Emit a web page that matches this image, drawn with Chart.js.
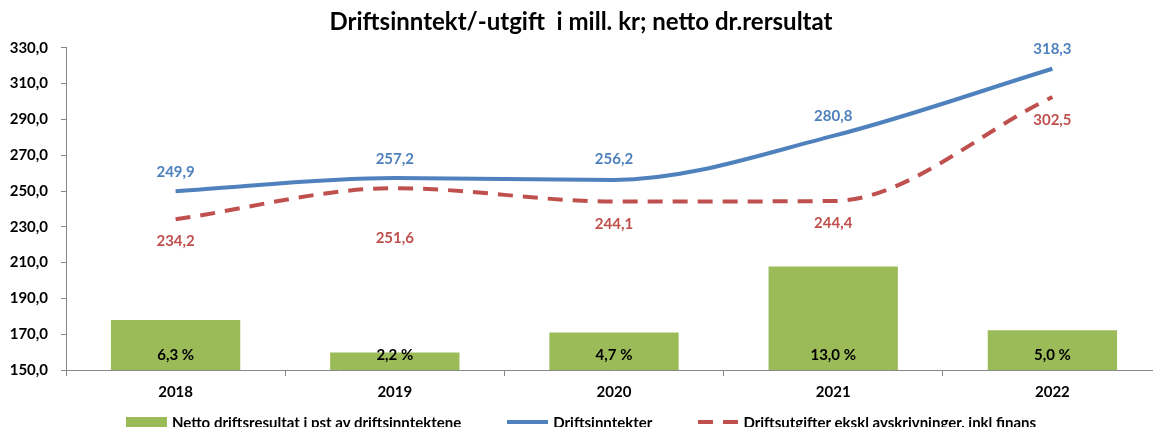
<!DOCTYPE html>
<html>
<head>
<meta charset="utf-8">
<script src="https://cdn.jsdelivr.net/npm/chart.js@4.4.1/dist/chart.umd.min.js"></script>
<style>
    html, body { margin: 0; padding: 0; background: #fff; overflow: hidden; }
    #frame { width: 1153px; height: 427px; overflow: hidden; position: relative; }
    #inner { width: 1162px; height: 427px; position: relative; }
    #legend {
        position: absolute; left: 0; top: 413px; width: 1162px;
        display: flex; justify-content: center; align-items: center;
        font-family: Lato, sans-serif; font-weight: bold; font-size: 15px; color: #000;
    }
    .item { display: flex; align-items: center; margin: 0 23px; }
    .sym { width: 41px; margin-right: 5px; }
    .box { height: 11px; background: #9bbb59; }
    .solid { height: 0; border-top: 4px solid #4f81bd; }
    .dash { height: 4px; background: repeating-linear-gradient(90deg, #c0504d 0 15px, transparent 15px 25px); width: 40px; }
</style>
</head>
<body>
<div id="frame">
    <div id="inner">
        <canvas id="chart"></canvas>
        <div id="legend">
            <div class="item"><div class="sym box"></div><span>Netto driftsresultat i pst av driftsinntektene</span></div>
            <div class="item"><div class="sym solid"></div><span>Driftsinntekter</span></div>
            <div class="item"><div class="sym dash"></div><span>Driftsutgifter ekskl avskrivninger, inkl finans</span></div>
        </div>
    </div>
</div>
<script>
// Chart data
const years = ['2018', '2019', '2020', '2021', '2022'];
const nettoPct = [6.3, 2.2, 4.7, 13.0, 5.0];
const inntekter = [249.9, 257.2, 256.2, 280.8, 318.3];
const utgifter = [234.2, 251.6, 244.1, 244.4, 302.5];

const blue = '#4f81bd';
const red = '#c0504d';
const green = '#9bbb59';
const axisGrey = '#888888';

// Number format with comma decimal
function fmt(v) {
    return v.toFixed(1).replace('.', ',');
}

// Draw value labels next to points and inside bars
const valueLabels = {
    id: 'valueLabels',
    afterDatasetsDraw(chart, args, opts) {
        const ctx = chart.ctx;
        ctx.save();
        ctx.font = 'bold 15px Lato, sans-serif';
        ctx.textAlign = 'center';
        ctx.textBaseline = 'middle';
        chart.data.datasets.forEach((ds, i) => {
            const meta = chart.getDatasetMeta(i);
            meta.data.forEach((el, j) => {
                const v = ds.data[j];
                if (ds.type === 'bar') {
                    ctx.fillStyle = '#000';
                    ctx.fillText(fmt(v) + ' %', el.x, chart.scales.y.bottom - 15);
                } else {
                    const off = opts.offsets[i][j];
                    ctx.fillStyle = ds.borderColor;
                    ctx.fillText(fmt(v), el.x, el.y + off);
                }
            });
        });
        ctx.restore();
    }
};

const ctx = document.getElementById('chart').getContext('2d');
const chart = new Chart(ctx, {
    type: 'bar',
    data: {
        labels: years,
        datasets: [
            {
                type: 'line',
                label: 'Driftsinntekter',
                data: inntekter,
                borderColor: blue,
                borderWidth: 4,
                pointRadius: 0,
                cubicInterpolationMode: 'monotone',
                yAxisID: 'y',
                order: 0
            },
            {
                type: 'line',
                label: 'Driftsutgifter ekskl avskrivninger, inkl finans',
                data: utgifter,
                borderColor: red,
                borderWidth: 4,
                borderDash: [15, 10],
                pointRadius: 0,
                cubicInterpolationMode: 'monotone',
                yAxisID: 'y',
                order: 1
            },
            {
                type: 'bar',
                label: 'Netto driftsresultat i pst av driftsinntektene',
                data: nettoPct,
                backgroundColor: green,
                categoryPercentage: 1,
                barPercentage: 0.59,
                yAxisID: 'y2',
                order: 2
            }
        ]
    },
    options: {
        responsive: true,
        maintainAspectRatio: false,
        animation: false,
        layout: { padding: { left: 0, right: 0, top: 0, bottom: 19 } },
        plugins: {
            legend: { display: false },
            tooltip: { enabled: false },
            title: {
                display: true,
                text: 'Driftsinntekt/-utgift  i mill. kr; netto dr.rersultat',
                color: '#000',
                font: { family: 'Lato', size: 24, weight: 'bold' },
                padding: { top: 8, bottom: 11 }
            },
            valueLabels: {
                offsets: [
                    [-19, -19, -21, -20, -20],
                    [22, 50, 23, 22, 23]
                ]
            }
        },
        scales: {
            x: {
                offset: true,
                grid: { display: true, drawOnChartArea: false, offset: true, tickLength: 6, color: axisGrey },
                border: { display: true, color: axisGrey, width: 1 },
                ticks: { color: '#000', padding: 7, font: { family: 'Lato', size: 15, weight: 'bold' } }
            },
            y: {
                min: 150,
                max: 330,
                afterFit(scale) { scale.width = 66; },
                grid: { display: true, drawOnChartArea: false, tickLength: 5, color: axisGrey },
                border: { display: true, color: axisGrey, width: 1 },
                ticks: {
                    stepSize: 20,
                    color: '#000',
                    padding: 13,
                    font: { family: 'Lato', size: 15, weight: 'bold' },
                    callback: (v) => fmt(v)
                }
            },
            y2: {
                display: false,
                min: 0,
                max: 40.5
            }
        }
    },
    plugins: [valueLabels]
});
</script>
</body>
</html>
